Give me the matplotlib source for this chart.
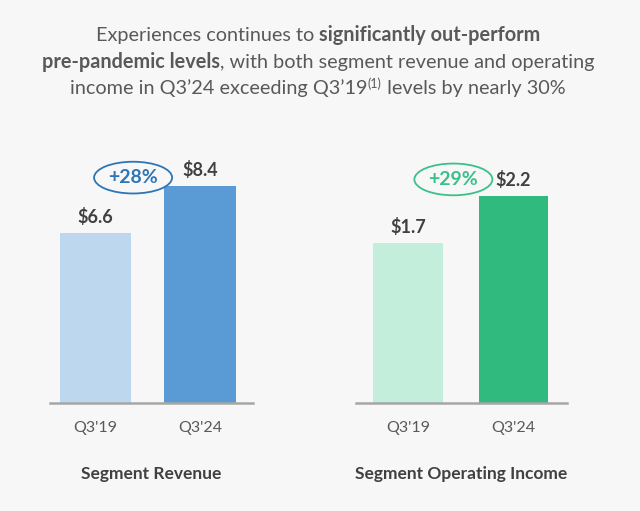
import matplotlib
matplotlib.use('Agg')
import matplotlib.pyplot as plt

# data
periods = ["Q3'19", "Q3'24"]
revenue = [6.6, 8.4]
op_income = [1.7, 2.2]
rev_change = '+28%'
inc_change = '+29%'
panel_titles = ['Segment Revenue', 'Segment Operating Income']

plt.rcParams['font.family'] = ['Lato', 'DejaVu Sans']
bg = '#f7f7f7'
gray = '#595959'

fig = plt.figure(figsize=(6.4, 5.11), dpi=100, facecolor=bg)

# title, built from normal and bold pieces
title_lines = [
    [('Experiences continues to ', 'normal', 0), ('significantly out-perform', 'bold', 0)],
    [('pre-pandemic levels', 'bold', 0), (', with both segment revenue and operating', 'normal', 0)],
    [('income in Q3\u201924 exceeding Q3\u201919', 'normal', 0), ('(1)', 'normal', 1),
     (' levels by nearly 30%', 'normal', 0)],
]
title_y = [0.92, 0.867, 0.816]
renderer = fig.canvas.get_renderer()
for parts, y in zip(title_lines, title_y):
    texts = []
    x = 0
    for s, w, sup in parts:
        fs = 9 if sup else 14.3
        t = fig.text(0, y + (0.012 if sup else 0), s, fontsize=fs, fontweight=w,
                     color=gray, va='baseline', ha='left')
        ext = t.get_window_extent(renderer)
        texts.append((t, x))
        x += ext.width
    x0 = 318 - x / 2
    for t, off in texts:
        t.set_x((x0 + off) / 640)


def panel(rect, vals, light, dark, xlim, width, ylim, change, ccolor, cx, cy, title):
    ax = fig.add_axes(rect)
    ax.set_facecolor(bg)
    xs = range(len(vals))
    ax.bar(xs, vals, width=width, color=[light, dark])
    for x, v in zip(xs, vals):
        ax.annotate('$%.1f' % v, (x, v), xytext=(0, 5), textcoords='offset points',
                    ha='center', va='bottom', fontsize=13, fontweight='bold', color='#404040')
    ax.text(cx, max(vals) * cy, change, ha='center', va='center', fontsize=14,
            fontweight='bold', color=ccolor,
            bbox=dict(boxstyle='ellipse,pad=0.14', fc='none', ec=ccolor, lw=1.3))
    ax.set_xlim(*xlim)
    ax.set_ylim(0, ylim)
    ax.set_xticks(list(xs))
    ax.set_xticklabels(periods, fontsize=11.5, color=gray)
    ax.tick_params(axis='x', length=0, pad=13)
    ax.set_yticks([])
    for sp in ['top', 'right', 'left']:
        ax.spines[sp].set_visible(False)
    ax.spines['bottom'].set_color('#a6a6a6')
    ax.spines['bottom'].set_linewidth(1.8)
    pos = ax.get_position()
    fig.text(pos.x0 + pos.width / 2, 0.072, title, ha='center', va='center',
             fontsize=12.5, fontweight='bold', color='#404040')
    return ax


panel([50 / 640, 108 / 511, 203 / 640, 253 / 511], revenue, '#bdd7ee', '#5b9bd5',
      (-0.435, 1.507), 0.68, 253 / 25.8, rev_change, '#2e75b6', 0.36, 1.04, panel_titles[0])
panel([356 / 640, 108 / 511, 211 / 640, 253 / 511], op_income, '#c3eedb', '#30ba7e',
      (-0.493, 1.507), 0.66, 253 / 94.1, inc_change, '#3cc08a', 0.43, 1.08, panel_titles[1])

fig.savefig('out.png', dpi=100, facecolor=bg)
